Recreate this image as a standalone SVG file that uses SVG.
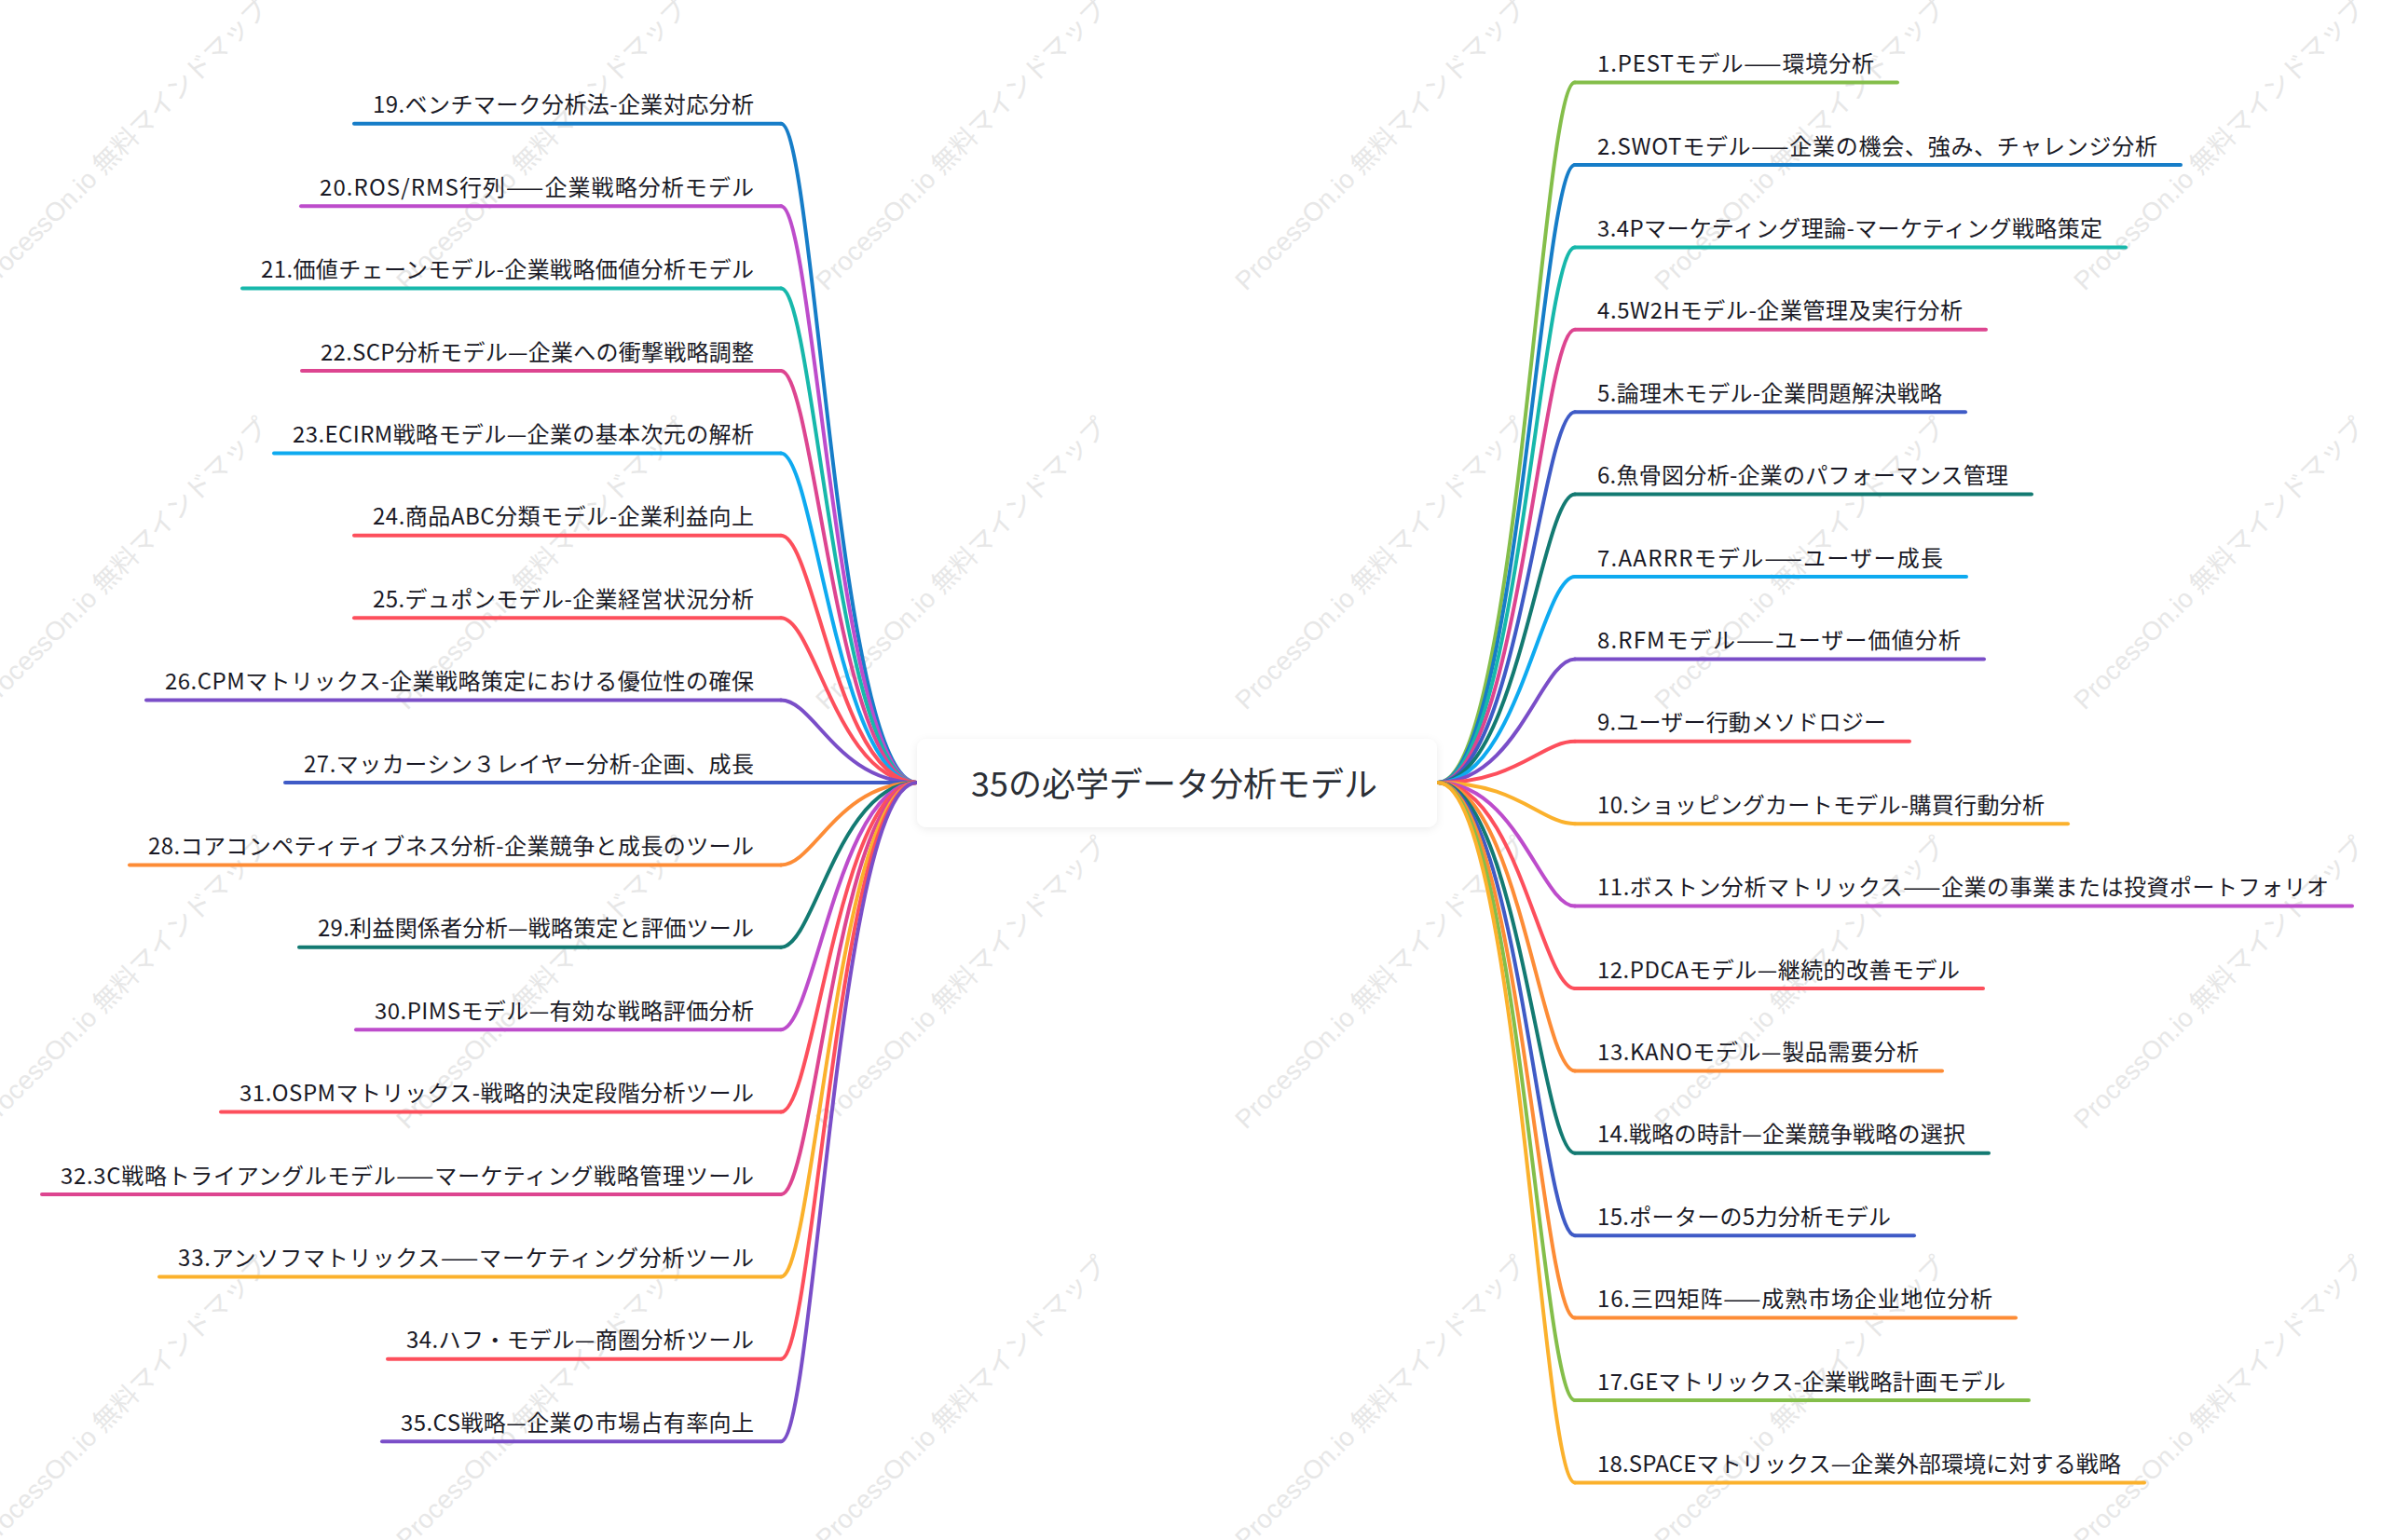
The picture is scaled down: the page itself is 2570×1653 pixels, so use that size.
<svg xmlns="http://www.w3.org/2000/svg" width="2570" height="1653" viewBox="0 0 2570 1653">
<defs>
<style>
.wm{font-family:"Liberation Sans","Noto Sans CJK JP",sans-serif;font-size:28px;fill:#e7e7e7}
.lbl{font-family:"Noto Sans CJK JP","Noto Sans",sans-serif;font-size:24px;fill:#1a1a26}
.lbl.l{text-anchor:end}
.root{font-family:"Noto Sans CJK JP","Noto Sans",sans-serif;font-size:36px;fill:#2b2f36;text-anchor:middle}
path,line{fill:none;stroke-width:4;stroke-linecap:round}
.green{stroke:#84be4a}.blue{stroke:#167dc8}.teal{stroke:#17b8ab}.pink{stroke:#dd4590}
.indigo{stroke:#3f5bc6}.dteal{stroke:#137a72}.lblue{stroke:#0eaaf0}.purple{stroke:#7a4ec8}
.red{stroke:#fd4f5c}.yellow{stroke:#fbb12c}.magenta{stroke:#bd4ccb}.orange{stroke:#fd8c36}
</style>
<filter id="sh" x="-10%" y="-30%" width="120%" height="160%">
<feDropShadow dx="0" dy="2" stdDeviation="4" flood-color="#000" flood-opacity="0.08"/>
</filter>
</defs>
<rect width="2570" height="1653" fill="#ffffff"/>
<g id="watermark">
<text class="wm" transform="translate(-13,313) rotate(-45)">ProcessOn.io 無料マインドマップ</text>
<text class="wm" transform="translate(437,313) rotate(-45)">ProcessOn.io 無料マインドマップ</text>
<text class="wm" transform="translate(887,313) rotate(-45)">ProcessOn.io 無料マインドマップ</text>
<text class="wm" transform="translate(1337,313) rotate(-45)">ProcessOn.io 無料マインドマップ</text>
<text class="wm" transform="translate(1787,313) rotate(-45)">ProcessOn.io 無料マインドマップ</text>
<text class="wm" transform="translate(2237,313) rotate(-45)">ProcessOn.io 無料マインドマップ</text>
<text class="wm" transform="translate(-13,763) rotate(-45)">ProcessOn.io 無料マインドマップ</text>
<text class="wm" transform="translate(437,763) rotate(-45)">ProcessOn.io 無料マインドマップ</text>
<text class="wm" transform="translate(887,763) rotate(-45)">ProcessOn.io 無料マインドマップ</text>
<text class="wm" transform="translate(1337,763) rotate(-45)">ProcessOn.io 無料マインドマップ</text>
<text class="wm" transform="translate(1787,763) rotate(-45)">ProcessOn.io 無料マインドマップ</text>
<text class="wm" transform="translate(2237,763) rotate(-45)">ProcessOn.io 無料マインドマップ</text>
<text class="wm" transform="translate(-13,1213) rotate(-45)">ProcessOn.io 無料マインドマップ</text>
<text class="wm" transform="translate(437,1213) rotate(-45)">ProcessOn.io 無料マインドマップ</text>
<text class="wm" transform="translate(887,1213) rotate(-45)">ProcessOn.io 無料マインドマップ</text>
<text class="wm" transform="translate(1337,1213) rotate(-45)">ProcessOn.io 無料マインドマップ</text>
<text class="wm" transform="translate(1787,1213) rotate(-45)">ProcessOn.io 無料マインドマップ</text>
<text class="wm" transform="translate(2237,1213) rotate(-45)">ProcessOn.io 無料マインドマップ</text>
<text class="wm" transform="translate(-13,1663) rotate(-45)">ProcessOn.io 無料マインドマップ</text>
<text class="wm" transform="translate(437,1663) rotate(-45)">ProcessOn.io 無料マインドマップ</text>
<text class="wm" transform="translate(887,1663) rotate(-45)">ProcessOn.io 無料マインドマップ</text>
<text class="wm" transform="translate(1337,1663) rotate(-45)">ProcessOn.io 無料マインドマップ</text>
<text class="wm" transform="translate(1787,1663) rotate(-45)">ProcessOn.io 無料マインドマップ</text>
<text class="wm" transform="translate(2237,1663) rotate(-45)">ProcessOn.io 無料マインドマップ</text>
</g>
<g id="connectors">
<path class="green" d="M1543,840 C1628,840 1654,88.6 1690,88.6"/>
<path class="blue" d="M1543,840 C1628,840 1654,177 1690,177"/>
<path class="teal" d="M1543,840 C1628,840 1654,265.4 1690,265.4"/>
<path class="pink" d="M1543,840 C1628,840 1654,353.8 1690,353.8"/>
<path class="indigo" d="M1543,840 C1628,840 1654,442.2 1690,442.2"/>
<path class="dteal" d="M1543,840 C1628,840 1654,530.6 1690,530.6"/>
<path class="lblue" d="M1543,840 C1628,840 1654,619 1690,619"/>
<path class="purple" d="M1543,840 C1628,840 1654,707.4 1690,707.4"/>
<path class="red" d="M1543,840 C1628,840 1654,795.8 1690,795.8"/>
<path class="yellow" d="M1543,840 C1628,840 1654,884.2 1690,884.2"/>
<path class="magenta" d="M1543,840 C1628,840 1654,972.6 1690,972.6"/>
<path class="red" d="M1543,840 C1628,840 1654,1061 1690,1061"/>
<path class="orange" d="M1543,840 C1628,840 1654,1149.4 1690,1149.4"/>
<path class="dteal" d="M1543,840 C1628,840 1654,1237.8 1690,1237.8"/>
<path class="indigo" d="M1543,840 C1628,840 1654,1326.2 1690,1326.2"/>
<path class="orange" d="M1543,840 C1628,840 1654,1414.6 1690,1414.6"/>
<path class="green" d="M1543,840 C1628,840 1654,1503 1690,1503"/>
<path class="yellow" d="M1543,840 C1628,840 1654,1591.4 1690,1591.4"/>
<path class="blue" d="M984,840 C899,840 874,132.8 838,132.8"/>
<path class="magenta" d="M984,840 C899,840 874,221.2 838,221.2"/>
<path class="teal" d="M984,840 C899,840 874,309.6 838,309.6"/>
<path class="pink" d="M984,840 C899,840 874,398 838,398"/>
<path class="lblue" d="M984,840 C899,840 874,486.4 838,486.4"/>
<path class="red" d="M984,840 C899,840 874,574.8 838,574.8"/>
<path class="red" d="M984,840 C899,840 874,663.2 838,663.2"/>
<path class="purple" d="M984,840 C899,840 874,751.6 838,751.6"/>
<path class="indigo" d="M984,840 L838,840"/>
<path class="orange" d="M984,840 C899,840 874,928.4 838,928.4"/>
<path class="dteal" d="M984,840 C899,840 874,1016.8 838,1016.8"/>
<path class="magenta" d="M984,840 C899,840 874,1105.2 838,1105.2"/>
<path class="red" d="M984,840 C899,840 874,1193.6 838,1193.6"/>
<path class="pink" d="M984,840 C899,840 874,1282 838,1282"/>
<path class="yellow" d="M984,840 C899,840 874,1370.4 838,1370.4"/>
<path class="red" d="M984,840 C899,840 874,1458.8 838,1458.8"/>
<path class="purple" d="M984,840 C899,840 874,1547.2 838,1547.2"/>
</g>
<g id="root">
<rect x="984" y="793" width="558" height="95" rx="10" fill="#ffffff" filter="url(#sh)"/>
<text class="root" x="1260" y="855" textLength="436" lengthAdjust="spacing">35の必学データ分析モデル</text>
</g>
<g id="n1"><line class="green" x1="1690" y1="88.6" x2="2036" y2="88.6"/><text class="lbl" x="1714" y="77.1" textLength="297" lengthAdjust="spacing">1.PESTモデル——環境分析</text></g>
<g id="n2"><line class="blue" x1="1690" y1="177" x2="2340" y2="177"/><text class="lbl" x="1714" y="165.5" textLength="601" lengthAdjust="spacing">2.SWOTモデル——企業の機会、強み、チャレンジ分析</text></g>
<g id="n3"><line class="teal" x1="1690" y1="265.4" x2="2281" y2="265.4"/><text class="lbl" x="1714" y="253.9" textLength="542" lengthAdjust="spacing">3.4Pマーケティング理論-マーケティング戦略策定</text></g>
<g id="n4"><line class="pink" x1="1690" y1="353.8" x2="2131" y2="353.8"/><text class="lbl" x="1714" y="342.3" textLength="392" lengthAdjust="spacing">4.5W2Hモデル-企業管理及実行分析</text></g>
<g id="n5"><line class="indigo" x1="1690" y1="442.2" x2="2109" y2="442.2"/><text class="lbl" x="1714" y="430.7" textLength="370" lengthAdjust="spacing">5.論理木モデル-企業問題解決戦略</text></g>
<g id="n6"><line class="dteal" x1="1690" y1="530.6" x2="2180" y2="530.6"/><text class="lbl" x="1714" y="519.1" textLength="441" lengthAdjust="spacing">6.魚骨図分析-企業のパフォーマンス管理</text></g>
<g id="n7"><line class="lblue" x1="1690" y1="619" x2="2110" y2="619"/><text class="lbl" x="1714" y="607.5" textLength="371" lengthAdjust="spacing">7.AARRRモデル——ユーザー成長</text></g>
<g id="n8"><line class="purple" x1="1690" y1="707.4" x2="2129" y2="707.4"/><text class="lbl" x="1714" y="695.9" textLength="390" lengthAdjust="spacing">8.RFMモデル——ユーザー価値分析</text></g>
<g id="n9"><line class="red" x1="1690" y1="795.8" x2="2049" y2="795.8"/><text class="lbl" x="1714" y="784.3" textLength="310" lengthAdjust="spacing">9.ユーザー行動メソドロジー</text></g>
<g id="n10"><line class="yellow" x1="1690" y1="884.2" x2="2219" y2="884.2"/><text class="lbl" x="1714" y="872.7" textLength="480" lengthAdjust="spacing">10.ショッピングカートモデル-購買行動分析</text></g>
<g id="n11"><line class="magenta" x1="1690" y1="972.6" x2="2524" y2="972.6"/><text class="lbl" x="1714" y="961.1" textLength="785" lengthAdjust="spacing">11.ボストン分析マトリックス——企業の事業または投資ポートフォリオ</text></g>
<g id="n12"><line class="red" x1="1690" y1="1061" x2="2128" y2="1061"/><text class="lbl" x="1714" y="1049.5" textLength="389" lengthAdjust="spacing">12.PDCAモデル—継続的改善モデル</text></g>
<g id="n13"><line class="orange" x1="1690" y1="1149.4" x2="2084" y2="1149.4"/><text class="lbl" x="1714" y="1137.9" textLength="345" lengthAdjust="spacing">13.KANOモデル—製品需要分析</text></g>
<g id="n14"><line class="dteal" x1="1690" y1="1237.8" x2="2134" y2="1237.8"/><text class="lbl" x="1714" y="1226.3" textLength="395" lengthAdjust="spacing">14.戦略の時計—企業競争戦略の選択</text></g>
<g id="n15"><line class="indigo" x1="1690" y1="1326.2" x2="2054" y2="1326.2"/><text class="lbl" x="1714" y="1314.7" textLength="315" lengthAdjust="spacing">15.ポーターの5力分析モデル</text></g>
<g id="n16"><line class="orange" x1="1690" y1="1414.6" x2="2163" y2="1414.6"/><text class="lbl" x="1714" y="1403.1" textLength="424" lengthAdjust="spacing">16.三四矩阵——成熟市场企业地位分析</text></g>
<g id="n17"><line class="green" x1="1690" y1="1503" x2="2177" y2="1503"/><text class="lbl" x="1714" y="1491.5" textLength="438" lengthAdjust="spacing">17.GEマトリックス-企業戦略計画モデル</text></g>
<g id="n18"><line class="yellow" x1="1690" y1="1591.4" x2="2301" y2="1591.4"/><text class="lbl" x="1714" y="1579.9" textLength="562" lengthAdjust="spacing">18.SPACEマトリックス—企業外部環境に対する戦略</text></g>
<g id="n19"><line class="blue" x1="838" y1="132.8" x2="380" y2="132.8"/><text class="lbl l" x="809" y="121.3" textLength="409" lengthAdjust="spacing">19.ベンチマーク分析法-企業対応分析</text></g>
<g id="n20"><line class="magenta" x1="838" y1="221.2" x2="323" y2="221.2"/><text class="lbl l" x="809" y="209.7" textLength="466" lengthAdjust="spacing">20.ROS/RMS行列——企業戦略分析モデル</text></g>
<g id="n21"><line class="teal" x1="838" y1="309.6" x2="260" y2="309.6"/><text class="lbl l" x="809" y="298.1" textLength="529" lengthAdjust="spacing">21.価値チェーンモデル-企業戦略価値分析モデル</text></g>
<g id="n22"><line class="pink" x1="838" y1="398" x2="324" y2="398"/><text class="lbl l" x="809" y="386.5" textLength="465" lengthAdjust="spacing">22.SCP分析モデル—企業への衝撃戦略調整</text></g>
<g id="n23"><line class="lblue" x1="838" y1="486.4" x2="294" y2="486.4"/><text class="lbl l" x="809" y="474.9" textLength="495" lengthAdjust="spacing">23.ECIRM戦略モデル—企業の基本次元の解析</text></g>
<g id="n24"><line class="red" x1="838" y1="574.8" x2="380" y2="574.8"/><text class="lbl l" x="809" y="563.3" textLength="409" lengthAdjust="spacing">24.商品ABC分類モデル-企業利益向上</text></g>
<g id="n25"><line class="red" x1="838" y1="663.2" x2="380" y2="663.2"/><text class="lbl l" x="809" y="651.7" textLength="409" lengthAdjust="spacing">25.デュポンモデル-企業経営状況分析</text></g>
<g id="n26"><line class="purple" x1="838" y1="751.6" x2="157" y2="751.6"/><text class="lbl l" x="809" y="740.1" textLength="632" lengthAdjust="spacing">26.CPMマトリックス-企業戦略策定における優位性の確保</text></g>
<g id="n27"><line class="indigo" x1="838" y1="840" x2="306" y2="840"/><text class="lbl l" x="809" y="828.5" textLength="483" lengthAdjust="spacing">27.マッカーシン３レイヤー分析-企画、成長</text></g>
<g id="n28"><line class="orange" x1="838" y1="928.4" x2="139" y2="928.4"/><text class="lbl l" x="809" y="916.9" textLength="650" lengthAdjust="spacing">28.コアコンペティティブネス分析-企業競争と成長のツール</text></g>
<g id="n29"><line class="dteal" x1="838" y1="1016.8" x2="321" y2="1016.8"/><text class="lbl l" x="809" y="1005.3" textLength="468" lengthAdjust="spacing">29.利益関係者分析—戦略策定と評価ツール</text></g>
<g id="n30"><line class="magenta" x1="838" y1="1105.2" x2="382" y2="1105.2"/><text class="lbl l" x="809" y="1093.7" textLength="407" lengthAdjust="spacing">30.PIMSモデル—有効な戦略評価分析</text></g>
<g id="n31"><line class="red" x1="838" y1="1193.6" x2="237" y2="1193.6"/><text class="lbl l" x="809" y="1182.1" textLength="552" lengthAdjust="spacing">31.OSPMマトリックス-戦略的決定段階分析ツール</text></g>
<g id="n32"><line class="pink" x1="838" y1="1282" x2="45" y2="1282"/><text class="lbl l" x="809" y="1270.5" textLength="744" lengthAdjust="spacing">32.3C戦略トライアングルモデル——マーケティング戦略管理ツール</text></g>
<g id="n33"><line class="yellow" x1="838" y1="1370.4" x2="171" y2="1370.4"/><text class="lbl l" x="809" y="1358.9" textLength="618" lengthAdjust="spacing">33.アンソフマトリックス——マーケティング分析ツール</text></g>
<g id="n34"><line class="red" x1="838" y1="1458.8" x2="416" y2="1458.8"/><text class="lbl l" x="809" y="1447.3" textLength="373" lengthAdjust="spacing">34.ハフ・モデル—商圏分析ツール</text></g>
<g id="n35"><line class="purple" x1="838" y1="1547.2" x2="410" y2="1547.2"/><text class="lbl l" x="809" y="1535.7" textLength="379" lengthAdjust="spacing">35.CS戦略—企業の市場占有率向上</text></g>
</svg>
